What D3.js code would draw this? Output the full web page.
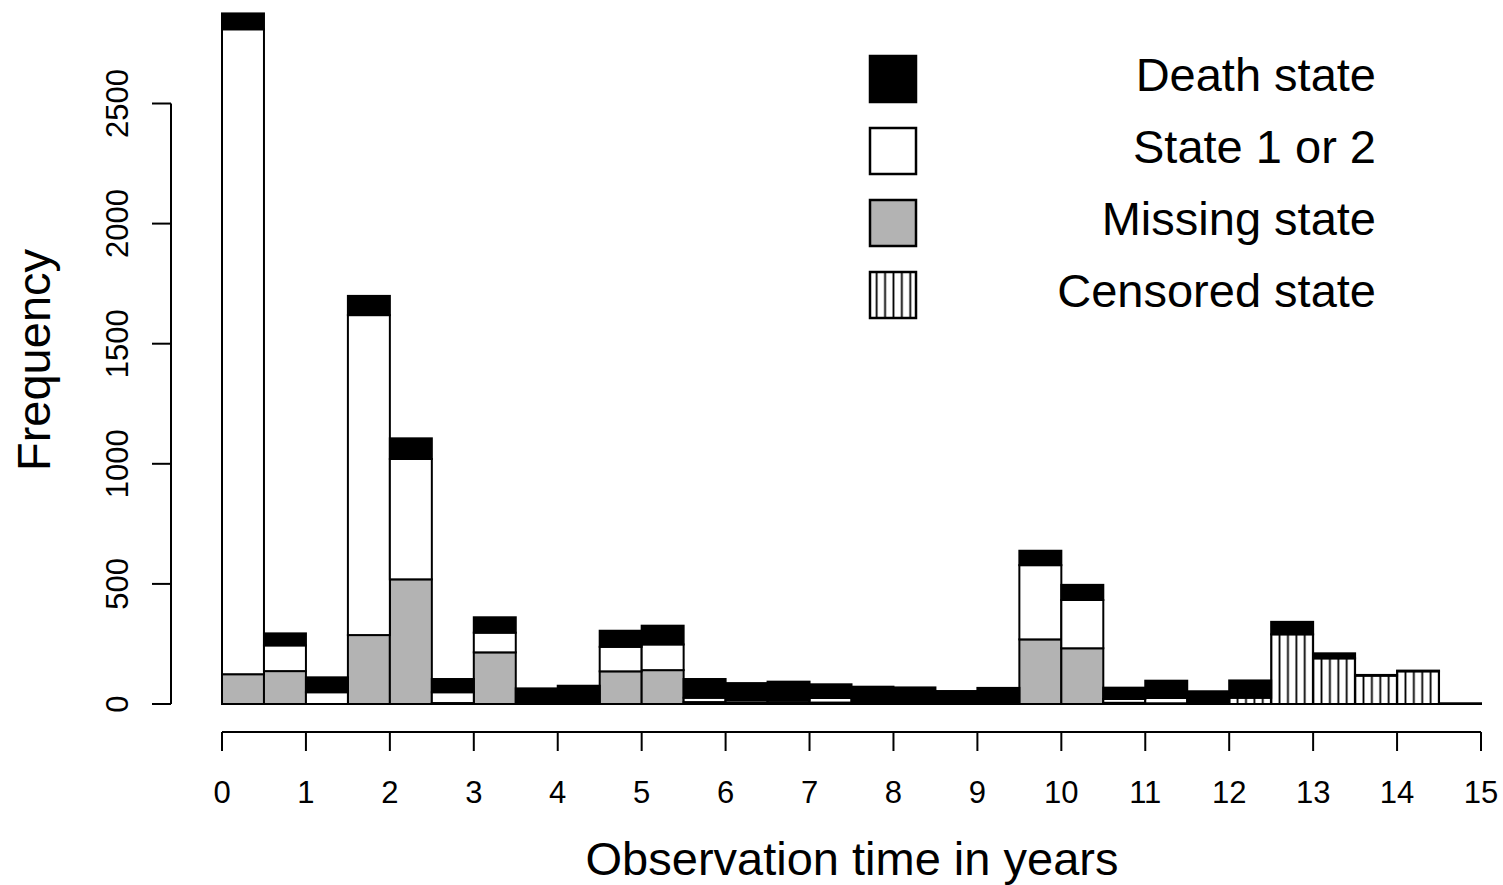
<!DOCTYPE html>
<html>
<head>
<meta charset="utf-8">
<script src="https://cdn.jsdelivr.net/npm/d3@7"></script>
<style>
  body { margin: 0; background: #fff; }
  svg { display: block; }
  text { font-family: "Liberation Sans", Arial, Helvetica, sans-serif; fill: #000; }
</style>
</head>
<body>
<svg id="chart" width="1503" height="885"></svg>
<script>
// Half-year observation-time bins (start of each bin, in years)
const binStart = [0, 0.5, 1, 1.5, 2, 2.5, 3, 3.5, 4, 4.5, 5, 5.5, 6, 6.5, 7,
                  7.5, 8, 8.5, 9, 9.5, 10, 10.5, 11, 11.5, 12, 12.5, 13, 13.5, 14, 14.5];
const binWidth = 0.5;

// Frequencies per bin for each observed state (stacked bottom to top)
const censored = [0, 0, 0, 0, 0, 0, 0, 0, 0, 0, 0, 0, 0, 0, 0,
                  0, 0, 0, 0, 0, 0, 0, 0, 0, 26, 290, 190, 118, 136, 3];
const missing  = [124, 137, 0, 287, 519, 4, 215, 0, 0, 136, 141, 8, 5, 5, 6,
                  0, 0, 0, 5, 269, 232, 5, 3, 0, 0, 0, 0, 0, 0, 0];
const state12  = [2685, 107, 49, 1332, 501, 45, 82, 0, 0, 102, 107, 18, 10, 9, 19,
                  0, 0, 0, 0, 309, 201, 16, 22, 0, 0, 0, 0, 0, 0, 0];
const death    = [66, 50, 62, 80, 86, 55, 64, 65, 76, 67, 78, 78, 72, 79, 57,
                  72, 69, 54, 62, 60, 63, 47, 72, 53, 72, 52, 21, 3, 3, 0];

const xTicks = [0, 1, 2, 3, 4, 5, 6, 7, 8, 9, 10, 11, 12, 13, 14, 15];
const yTicks = [0, 500, 1000, 1500, 2000, 2500];

const seriesKeys   = ["censored", "missing", "state12", "death"];
const legendKeys   = ["death", "state12", "missing", "censored"];
const legendLabels = ["Death state", "State 1 or 2", "Missing state", "Censored state"];

const xTitle = "Observation time in years";
const yTitle = "Frequency";

// Table for d3.stack
const rows = binStart.map((b, i) => ({
  start: b,
  censored: censored[i],
  missing: missing[i],
  state12: state12[i],
  death: death[i]
}));

const svg = d3.select("#chart");

const x = d3.scaleLinear().domain([0, 15]).range([222, 1481]);
const y = d3.scaleLinear().domain([0, 2500]).range([704, 103.5]);

const fills = {
  death: "#000000",
  state12: "#ffffff",
  missing: "#b3b3b3",
  censored: "url(#hatch)"
};

// Vertical line shading for censored counts
const defs = svg.append("defs");
const step = (x(binWidth) - x(0)) / 5;
const pat = defs.append("pattern")
  .attr("id", "hatch")
  .attr("patternUnits", "userSpaceOnUse")
  .attr("x", x(0) - step / 2)
  .attr("y", 0)
  .attr("width", step)
  .attr("height", 10);
pat.append("rect").attr("width", step).attr("height", 10).attr("fill", "#fff");
pat.append("line")
  .attr("x1", step / 2).attr("x2", step / 2)
  .attr("y1", 0).attr("y2", 10)
  .attr("stroke", "#000").attr("stroke-width", 1.8);

const stacked = d3.stack().keys(seriesKeys)(rows);

const layers = svg.append("g").attr("class", "bars");
stacked.forEach(layer => {
  layers.append("g")
    .selectAll("rect")
    .data(layer.filter(d => d[1] - d[0] > 0))
    .join("rect")
    .attr("x", d => x(d.data.start))
    .attr("width", d => x(d.data.start + binWidth) - x(d.data.start))
    .attr("y", d => y(d[1]))
    .attr("height", d => y(d[0]) - y(d[1]))
    .attr("fill", fills[layer.key])
    .attr("stroke", "#000")
    .attr("stroke-width", 2);
});

// x axis (detached below the bars)
const xAxis = svg.append("g").attr("transform", "translate(0,732)");
xAxis.append("line")
  .attr("x1", x(0)).attr("x2", x(15))
  .attr("y1", 0).attr("y2", 0)
  .attr("stroke", "#000").attr("stroke-width", 2);
xAxis.selectAll("line.tick")
  .data(xTicks).join("line")
  .attr("class", "tick")
  .attr("x1", d => x(d)).attr("x2", d => x(d))
  .attr("y1", 0).attr("y2", 19)
  .attr("stroke", "#000").attr("stroke-width", 2);
xAxis.selectAll("text")
  .data(xTicks).join("text")
  .attr("x", d => x(d))
  .attr("y", 71)
  .attr("text-anchor", "middle")
  .attr("font-size", 31)
  .text(d => d);

// y axis (detached left of the bars)
const yAxis = svg.append("g").attr("transform", "translate(171,0)");
yAxis.append("line")
  .attr("x1", 0).attr("x2", 0)
  .attr("y1", y(0)).attr("y2", y(2500))
  .attr("stroke", "#000").attr("stroke-width", 2);
yAxis.selectAll("line.tick")
  .data(yTicks).join("line")
  .attr("class", "tick")
  .attr("x1", 0).attr("x2", -19)
  .attr("y1", d => y(d)).attr("y2", d => y(d))
  .attr("stroke", "#000").attr("stroke-width", 2);
yAxis.selectAll("text")
  .data(yTicks).join("text")
  .attr("transform", d => `translate(-43,${y(d)}) rotate(-90)`)
  .attr("text-anchor", "middle")
  .attr("font-size", 31)
  .text(d => d);

// Axis titles
svg.append("text")
  .attr("x", 852).attr("y", 875)
  .attr("text-anchor", "middle")
  .attr("font-size", 47)
  .text(xTitle);
svg.append("text")
  .attr("transform", "translate(50,360) rotate(-90)")
  .attr("text-anchor", "middle")
  .attr("font-size", 47)
  .text(yTitle);

// Legend
const legend = svg.append("g").attr("class", "legend");
const legendTop = 79, legendGap = 72;
legendKeys.forEach((k, i) => {
  const cy = legendTop + i * legendGap;
  legend.append("rect")
    .attr("x", 870).attr("y", cy - 23)
    .attr("width", 46).attr("height", 46)
    .attr("fill", fills[k])
    .attr("stroke", "#000").attr("stroke-width", 2.5);
  legend.append("text")
    .attr("x", 1376).attr("y", cy + 12)
    .attr("text-anchor", "end")
    .attr("font-size", 47)
    .text(legendLabels[i]);
});
</script>
</body>
</html>
